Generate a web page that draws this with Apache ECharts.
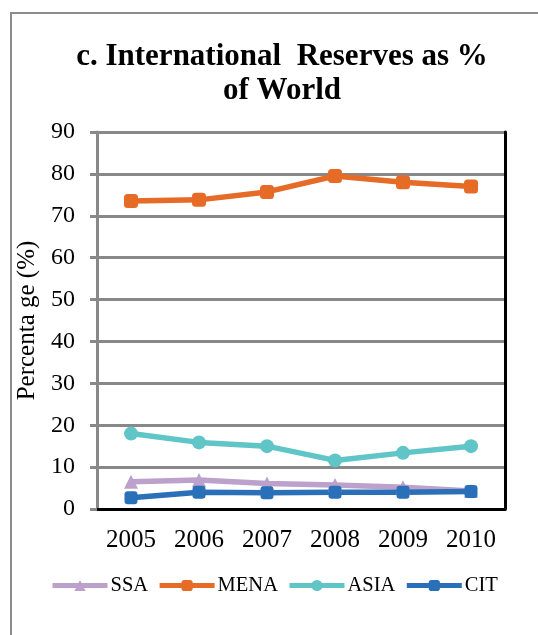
<!DOCTYPE html>
<html><head><meta charset="utf-8">
<script src="https://cdn.jsdelivr.net/npm/echarts@6/dist/echarts.min.js"></script>
<style>html,body{margin:0;padding:0;background:#fff}#c{width:538px;height:635px}</style>
</head><body><div id="c"></div>
<script>
const years = ['2005','2006','2007','2008','2009','2010'];
const ssa  = [6.5, 6.9, 6.1, 5.7, 5.2, 4.3];
const mena = [73.5, 73.8, 75.7, 79.5, 78.0, 77.0];
const asia = [18.0, 15.9, 15.0, 11.6, 13.4, 15.0];
const cit  = [2.7, 4.0, 3.9, 4.0, 4.0, 4.2];
const yTicks = [0,10,20,30,40,50,60,70,80,90];

const serif = '"Liberation Serif","DejaVu Serif",serif';
const chart = echarts.init(document.getElementById('c'));
function ser(name, data, color, symbol, size){
  return {name, type:'line', data, symbol, symbolSize:size,
    lineStyle:{color, width:5.5}, itemStyle:{color}, z:3};
}
chart.setOption({
  animation:false,
  title:{text:'c. International  Reserves as %\nof World', left:277, textAlign:'center', top:35,
    textStyle:{fontFamily:serif, fontSize:31, fontWeight:'bold', color:'#000', lineHeight:34}},
  graphic:[{type:'rect', shape:{x:11, y:13, width:620, height:700},
    style:{fill:'none', stroke:'#8c8c8c', lineWidth:2}, z:-1}],
  grid:{left:97, right:33, top:132, bottom:126},
  legend:{top:570, left:45, itemWidth:55, itemHeight:14, itemGap:9,
    lineStyle:{width:5},
    textStyle:{fontFamily:serif, fontSize:20.5, color:'#000', padding:[0,0,0,-2]},
    data:['SSA','MENA','ASIA','CIT']},
  xAxis:[{type:'category', data:years, boundaryGap:true,
    axisLine:{lineStyle:{color:'#888', width:3}},
    axisTick:{length:7, lineStyle:{color:'#888', width:3}},
    axisLabel:{fontFamily:serif, fontSize:25, color:'#000', margin:19}},
   {type:'category', position:'top', data:years, axisLine:{lineStyle:{color:'#000', width:3}},
    axisTick:{show:false}, axisLabel:{show:false}}],
  yAxis:[{type:'value', min:0, max:90, interval:10,
    name:'Percenta ge (%)', nameLocation:'middle', nameGap:56,
    nameTextStyle:{fontFamily:serif, fontSize:25, color:'#000'},
    axisLine:{show:true, lineStyle:{color:'#888', width:3}},
    axisTick:{show:true, length:7, lineStyle:{color:'#888', width:3}},
    splitLine:{lineStyle:{color:'#888', width:3}},
    axisLabel:{fontFamily:serif, fontSize:24, color:'#000', margin:22,
      formatter:v=>yTicks.includes(v)?String(v):''}},
   {type:'value', min:0, max:90, interval:10, position:'right',
    axisLine:{show:true, lineStyle:{color:'#000', width:3}},
    axisTick:{show:false}, axisLabel:{show:false}, splitLine:{show:false}}],
  series:[
    ser('SSA', ssa, '#bba1cb', 'triangle', 14),
    ser('MENA', mena, '#e66b27', 'roundRect', 14),
    ser('ASIA', asia, '#5fc5c7', 'circle', 14),
    ser('CIT', cit, '#2a70b8', 'roundRect', 13)
  ]
});
</script></body></html>
